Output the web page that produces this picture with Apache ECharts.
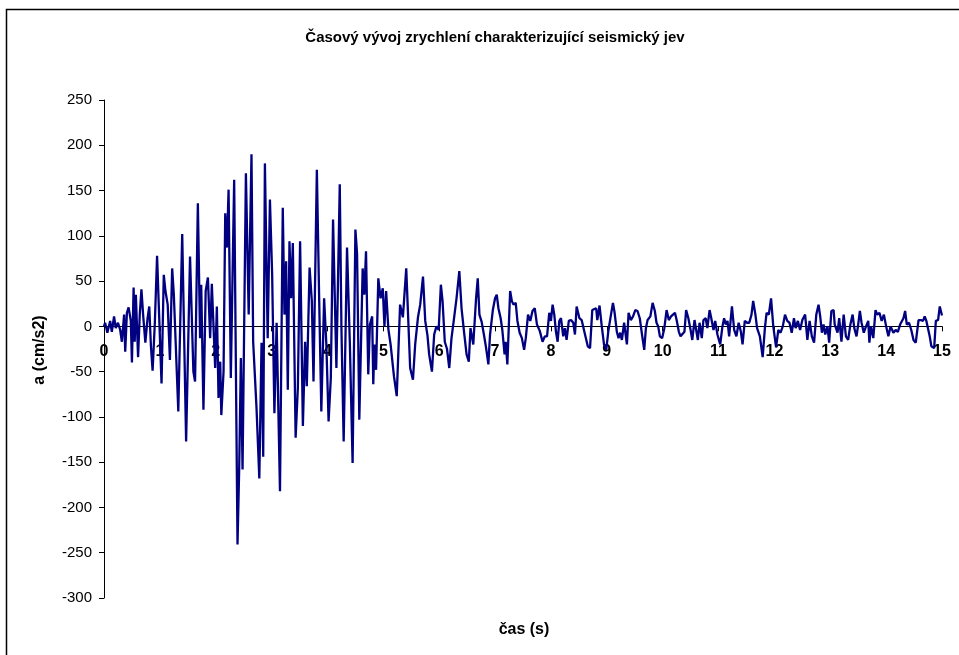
<!DOCTYPE html>
<html>
<head>
<meta charset="utf-8">
<title>Časový vývoj zrychlení</title>
<script src="https://cdn.jsdelivr.net/npm/echarts@6.0.0/dist/echarts.min.js"></script>
<style>
  html, body { margin: 0; padding: 0; background: #fff; }
  #chart { width: 959px; height: 655px; }
</style>
</head>
<body>
<div id="chart"></div>
<script>
// cas (s) - time of each read point
var timeData = [
  0.00, 0.02, 0.06, 0.11, 0.14, 0.18, 0.21, 0.25, 0.29, 0.32, 0.36, 0.38, 0.41, 0.44, 0.48, 0.50,
  0.53, 0.55, 0.57, 0.61, 0.64, 0.67, 0.70, 0.74, 0.78, 0.81, 0.84, 0.87, 0.91, 0.95, 0.98, 1.03,
  1.07, 1.10, 1.14, 1.18, 1.22, 1.25, 1.28, 1.33, 1.40, 1.47, 1.54, 1.60, 1.63, 1.68, 1.72, 1.74,
  1.78, 1.82, 1.86, 1.90, 1.93, 1.96, 1.99, 2.02, 2.05, 2.08, 2.10, 2.14, 2.17, 2.20, 2.23, 2.27,
  2.33, 2.39, 2.42, 2.45, 2.48, 2.54, 2.59, 2.64, 2.67, 2.73, 2.78, 2.82, 2.85, 2.88, 2.93, 2.97,
  3.01, 3.05, 3.09, 3.15, 3.20, 3.23, 3.26, 3.29, 3.32, 3.35, 3.38, 3.43, 3.47, 3.51, 3.56, 3.60,
  3.63, 3.68, 3.72, 3.75, 3.81, 3.85, 3.89, 3.94, 3.98, 4.02, 4.06, 4.10, 4.16, 4.22, 4.25, 4.29,
  4.35, 4.40, 4.45, 4.50, 4.53, 4.57, 4.63, 4.66, 4.69, 4.73, 4.76, 4.80, 4.82, 4.84, 4.87, 4.91,
  4.95, 4.99, 5.02, 5.05, 5.09, 5.13, 5.19, 5.24, 5.30, 5.35, 5.41, 5.48, 5.53, 5.57, 5.62, 5.66,
  5.71, 5.75, 5.79, 5.82, 5.87, 5.91, 5.95, 5.99, 6.03, 6.06, 6.10, 6.14, 6.18, 6.22, 6.26, 6.31,
  6.36, 6.40, 6.45, 6.49, 6.53, 6.56, 6.61, 6.66, 6.69, 6.72, 6.76, 6.80, 6.84, 6.88, 6.91, 6.96,
  7.00, 7.03, 7.06, 7.10, 7.13, 7.17, 7.19, 7.22, 7.27, 7.30, 7.33, 7.37, 7.40, 7.44, 7.48, 7.52,
  7.55, 7.59, 7.63, 7.67, 7.71, 7.75, 7.80, 7.85, 7.89, 7.93, 7.97, 8.00, 8.03, 8.06, 8.09, 8.12,
  8.15, 8.18, 8.22, 8.25, 8.28, 8.32, 8.36, 8.40, 8.43, 8.46, 8.51, 8.55, 8.58, 8.61, 8.66, 8.70,
  8.74, 8.77, 8.81, 8.83, 8.87, 8.91, 8.95, 8.99, 9.03, 9.07, 9.11, 9.14, 9.18, 9.21, 9.24, 9.27,
  9.31, 9.36, 9.39, 9.43, 9.47, 9.51, 9.55, 9.59, 9.63, 9.67, 9.70, 9.73, 9.78, 9.82, 9.86, 9.89,
  9.92, 9.95, 9.99, 10.03, 10.07, 10.11, 10.15, 10.18, 10.22, 10.25, 10.29, 10.32, 10.35, 10.39, 10.42, 10.46,
  10.50, 10.53, 10.57, 10.60, 10.63, 10.66, 10.70, 10.73, 10.77, 10.80, 10.84, 10.87, 10.91, 10.94, 10.98, 11.03,
  11.07, 11.10, 11.13, 11.16, 11.19, 11.24, 11.28, 11.32, 11.36, 11.40, 11.43, 11.47, 11.51, 11.55, 11.59, 11.62,
  11.66, 11.69, 11.74, 11.79, 11.83, 11.86, 11.90, 11.94, 11.98, 12.03, 12.07, 12.11, 12.15, 12.19, 12.23, 12.27,
  12.31, 12.35, 12.38, 12.42, 12.46, 12.50, 12.55, 12.59, 12.63, 12.67, 12.71, 12.75, 12.79, 12.82, 12.85, 12.88,
  12.91, 12.95, 12.98, 13.02, 13.06, 13.08, 13.13, 13.16, 13.20, 13.24, 13.28, 13.32, 13.36, 13.40, 13.43, 13.47,
  13.50, 13.53, 13.56, 13.60, 13.64, 13.68, 13.70, 13.73, 13.77, 13.81, 13.84, 13.88, 13.92, 13.96, 14.00, 14.04,
  14.08, 14.13, 14.17, 14.21, 14.25, 14.31, 14.34, 14.37, 14.41, 14.45, 14.49, 14.53, 14.58, 14.62, 14.66, 14.69,
  14.72, 14.75, 14.78, 14.81, 14.86, 14.89, 14.93, 14.96, 15.00
];
// a (cm/s2) - acceleration at each time above
var accelData = [
  0, 4, -7, 6, -6, 11, -2, 4, -4, -17, 13, -28, 15, 21, 6, -40,
  43, -17, 35, -34, 13, 41, 13, -18, 9, 22, -22, -49, 4, 78, 24, -63,
  57, 39, 24, -37, 64, 35, 34, -94, 102, -127, 77, -50, -61, 136, -13, 46,
  -92, 39, 54, -13, 47, 46, -46, 22, -79, -39, -98, -50, 125, 87, 151, -57,
  162, -241, -157, -35, -158, 169, 13, 190, -17, -90, -168, -18, -144, 180, -13, 140,
  57, -96, 4, -182, 131, 13, 72, -70, 94, 31, 92, -123, -68, 94, -110, -17,
  -66, 65, 28, -61, 173, 35, -94, 31, -20, -105, -57, 118, -46, 157, -2, -127,
  87, -17, -151, 107, 80, -103, 64, 35, 83, -53, 2, 11, -64, -20, -48, 53,
  31, 42, 0, 39, -3, -20, -55, -77, 24, 10, 64, -46, -59, -20, 10, 24,
  55, 6, -10, -31, -50, -9, 0, -4, 46, 28, -17, -25, -46, -13, 6, 31,
  61, 20, -9, -31, -39, -2, -20, 31, 53, 13, 5, -9, -24, -42, -9, 18,
  31, 35, 20, 9, -4, -31, -17, -42, 39, 28, 24, 26, 6, -7, -13, -26,
  -13, 13, 6, 17, 20, 2, -5, -17, -11, -11, 15, 6, 24, 13, -6, -17,
  6, 9, -11, -2, -15, 6, 7, 4, -9, 22, 9, 7, 6, -9, -22, -24,
  18, 20, 20, 7, 23, 0, -20, -26, -4, 11, 26, 15, -6, -13, -7, -15,
  4, -20, 15, 7, 11, 18, 17, 9, -9, -26, -2, 7, 11, 26, 17, 4,
  0, -11, -13, -2, 18, 7, 11, 9, 15, 7, -6, -11, -13, -6, 18, 9,
  -4, -15, 7, 9, -15, 4, -13, 7, 9, -2, 18, 9, -4, 6, -9, -20,
  0, 9, 2, 6, -11, 22, -4, -11, 4, -6, -20, 6, 4, 4, 13, 28,
  13, -2, -11, -34, -2, 15, 13, 31, 0, -23, -4, -7, 0, 13, 6, 4,
  -7, 9, -2, 6, -4, 7, 13, -15, 6, -11, -18, 13, 24, 11, -7, 2,
  -9, 0, -18, 17, 18, 2, -7, 9, -17, 13, -11, -15, 2, 13, -2, -11,
  2, 17, 4, -7, 0, 6, -18, 0, -13, 18, 13, 15, 6, 13, 0, -11,
  0, -7, -4, -6, 2, 9, 17, 2, 4, -4, -15, -18, 7, 7, 6, 11,
  6, 7, -11, -22, -24, 6, 7, 22, 12
];

var titleText = 'Časový vývoj zrychlení charakterizující seismický jev';
var xName = 'čas (s)';
var yName = 'a (cm/s2)';

var seriesData = [];
for (var i = 0; i < timeData.length; i++) {
  seriesData.push([timeData[i], accelData[i]]);
}

var myChart = echarts.init(document.getElementById('chart'));
// plot height 498 px for 550 units, zero sits 250 units below the top
var zeroOffset = -(498 - 250 / 550 * 498);
var option = {
  backgroundColor: '#fff',
  animation: false,
  textStyle: { fontFamily: 'Liberation Sans, Arial, sans-serif' },
  grid: { left: 104, right: 17, top: 100, bottom: 57 },
  xAxis: {
    type: 'value',
    min: 0,
    max: 15,
    interval: 1,
    offset: zeroOffset,
    axisLine: { show: true, onZero: false, lineStyle: { color: '#000', width: 1 } },
    axisTick: { show: true, inside: false, length: 5, lineStyle: { color: '#000' } },
    axisLabel: { color: '#000', fontSize: 16, fontWeight: 'bold', margin: 17 },
    splitLine: { show: false }
  },
  yAxis: {
    type: 'value',
    min: -300,
    max: 250,
    interval: 50,
    axisLine: { show: true, lineStyle: { color: '#000', width: 1 } },
    axisTick: { show: true, inside: false, length: 5, lineStyle: { color: '#000' } },
    axisLabel: { color: '#000', fontSize: 15, margin: 12 },
    splitLine: { show: false }
  },
  graphic: [
    {
      type: 'rect',
      shape: { x: 6.5, y: 9.5, width: 980, height: 700 },
      style: { fill: 'none', stroke: '#000', lineWidth: 1.5 },
      silent: true
    },
    {
      type: 'text',
      x: 495, y: 38,
      style: { text: titleText, fill: '#000', font: 'bold 15px "Liberation Sans", Arial', textAlign: 'center', textVerticalAlign: 'middle' }
    },
    {
      type: 'text',
      x: 524, y: 630,
      style: { text: xName, fill: '#000', font: 'bold 16px "Liberation Sans", Arial', textAlign: 'center', textVerticalAlign: 'middle' }
    },
    {
      type: 'text',
      x: 40, y: 350,
      rotation: Math.PI / 2,
      style: { text: yName, fill: '#000', font: 'bold 16px "Liberation Sans", Arial', textAlign: 'center', textVerticalAlign: 'middle' }
    }
  ],
  series: [
    {
      type: 'line',
      data: seriesData,
      showSymbol: false,
      smooth: false,
      lineStyle: { color: '#000080', width: 2.3 },
      z: 3
    }
  ]
};
myChart.setOption(option);
</script>
</body>
</html>
